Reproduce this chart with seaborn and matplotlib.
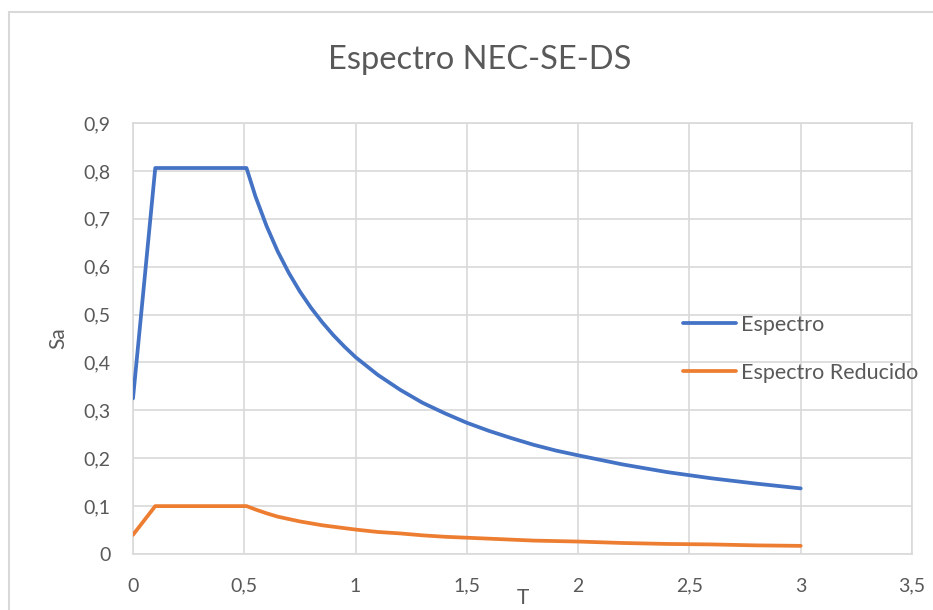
import matplotlib
matplotlib.use("Agg")
import matplotlib.pyplot as plt
import matplotlib.patches as mpatches
import seaborn as sns
import pandas as pd

# Period values (s)
periodo = [0.0, 0.05, 0.1, 0.15, 0.2, 0.25, 0.3, 0.35, 0.4, 0.45, 0.5, 0.51,
           0.55, 0.6, 0.65, 0.7, 0.75, 0.8, 0.85, 0.9, 0.95, 1.0,
           1.1, 1.2, 1.3, 1.4, 1.5, 1.6, 1.7, 1.8, 1.9, 2.0,
           2.2, 2.4, 2.6, 2.8, 3.0]

# Elastic design spectrum Sa (g)
espectro = [0.325, 0.565, 0.806, 0.806, 0.806, 0.806, 0.806, 0.806, 0.806, 0.806, 0.806, 0.806,
            0.747, 0.685, 0.632, 0.587, 0.548, 0.514, 0.484, 0.457, 0.433, 0.411,
            0.374, 0.343, 0.316, 0.294, 0.274, 0.257, 0.242, 0.228, 0.216, 0.206,
            0.187, 0.171, 0.158, 0.147, 0.137]

# Reduced (inelastic) spectrum Sa (g)
reducido = [0.040, 0.070, 0.100, 0.100, 0.100, 0.100, 0.100, 0.100, 0.100, 0.100, 0.100, 0.100,
            0.093, 0.085, 0.078, 0.073, 0.068, 0.064, 0.060, 0.057, 0.054, 0.051,
            0.046, 0.043, 0.039, 0.036, 0.034, 0.032, 0.030, 0.028, 0.027, 0.026,
            0.023, 0.021, 0.020, 0.018, 0.017]

series = ["Espectro", "Espectro Reducido"]
x_ticks = [0, 0.5, 1, 1.5, 2, 2.5, 3, 3.5]
x_ticklabels = ["0", "0,5", "1", "1,5", "2", "2,5", "3", "3,5"]
y_ticks = [0, 0.1, 0.2, 0.3, 0.4, 0.5, 0.6, 0.7, 0.8, 0.9]
y_ticklabels = ["0", "0,1", "0,2", "0,3", "0,4", "0,5", "0,6", "0,7", "0,8", "0,9"]

df = pd.DataFrame({
    "T": periodo + periodo,
    "Sa": espectro + reducido,
    "serie": [series[0]] * len(periodo) + [series[1]] * len(periodo),
})

sns.set_theme(style="white")
plt.rcParams["font.family"] = ["Lato", "DejaVu Sans"]

text_color = "#595959"
grid_color = "#D9D9D9"
line_colors = ["#4472C4", "#ED7D31"]

fig = plt.figure(figsize=(9.33, 6.10), dpi=100)
ax = fig.add_axes([133 / 933, 1 - 554 / 610, (912 - 133) / 933, (554 - 123) / 610])

sns.lineplot(data=df, x="T", y="Sa", hue="serie", hue_order=series,
             palette=line_colors, linewidth=2.7, sort=False,
             estimator=None, ax=ax, legend=False, zorder=3)

ax.set_xlim(0, 3.5)
ax.set_ylim(0, 0.9)
ax.set_xticks(x_ticks)
ax.set_xticklabels(x_ticklabels)
ax.set_yticks(y_ticks)
ax.set_yticklabels(y_ticklabels)
ax.tick_params(axis="both", length=0, labelsize=14, colors=text_color)
ax.tick_params(axis="x", pad=17)
ax.tick_params(axis="y", pad=16)
ax.grid(True, color=grid_color, linewidth=1.2)
ax.set_axisbelow(True)
for sp in ax.spines.values():
    sp.set_color(grid_color)
    sp.set_linewidth(1.2)

ax.set_xlabel("T", fontsize=15, color=text_color, labelpad=-5)
ax.set_ylabel("Sa", fontsize=15, color=text_color, labelpad=11)

handles = [plt.Line2D([], [], color=c, linewidth=2.7) for c in line_colors]
leg = ax.legend(handles, series, loc="upper left", bbox_to_anchor=(683 / 933, 1 - 315 / 610),
                bbox_transform=fig.transFigure, frameon=False, fontsize=15.5,
                handlelength=2.45, handletextpad=0.25, labelspacing=1.3,
                borderpad=0, borderaxespad=0)
for t in leg.get_texts():
    t.set_color(text_color)

fig.text(480 / 933, 1 - 60 / 610, "Espectro NEC-SE-DS", ha="center", va="center",
         fontsize=23.5, color=text_color)

# chart-area border
fig.patches.append(mpatches.Rectangle((9 / 933, -0.1), 1.2, 1.1 - 12 / 610,
                                      transform=fig.transFigure, fill=False,
                                      edgecolor=grid_color, linewidth=1.5))

fig.savefig("out.png", dpi=100, facecolor="white")
